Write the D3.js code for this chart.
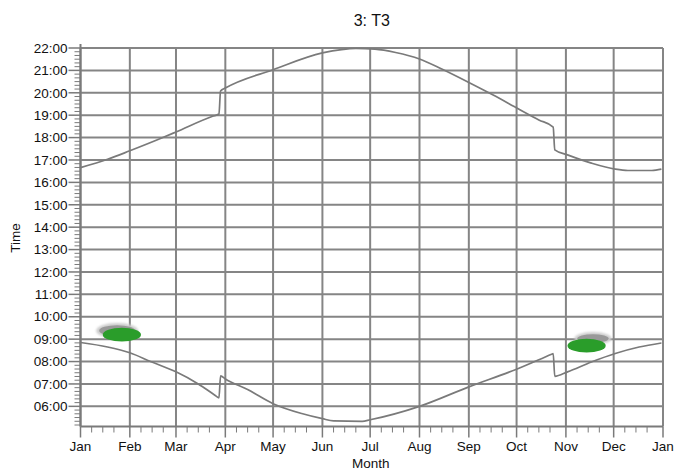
<!DOCTYPE html>
<html>
<head>
<meta charset="utf-8">
<script src="https://cdn.jsdelivr.net/npm/d3@7"></script>
<style>
  html, body { margin: 0; padding: 0; background: #fff; }
  svg { display: block; font-family: "Liberation Sans", Arial, sans-serif; }
</style>
</head>
<body>
<svg id="chart" width="677" height="472"></svg>
<script>
// ---------- data ----------
const chartTitle = "3: T3";
const xTitle = "Month";
const yTitle = "Time";
const monthLabels = ["Jan","Feb","Mar","Apr","May","Jun","Jul","Aug","Sep","Oct","Nov","Dec","Jan"];
const hourTicks = [6,7,8,9,10,11,12,13,14,15,16,17,18,19,20,21,22];

// sunset (upper line): date, time in decimal hours
const sunsetDates = ["2020-01-01","2020-01-18","2020-02-01","2020-02-21","2020-03-01","2020-03-24","2020-03-28","2020-03-29","2020-04-01","2020-05-01","2020-06-01","2020-06-13","2020-06-22","2020-07-04","2020-07-17","2020-08-01","2020-08-15","2020-09-01","2020-09-16","2020-10-02","2020-10-15","2020-10-24","2020-10-25","2020-11-02","2020-11-17","2020-12-02","2020-12-10","2020-12-25","2020-12-31"];
const sunsetTimes = [16.66,17.03,17.41,17.98,18.25,18.95,19.05,20.08,20.21,21.03,21.78,21.93,21.98,21.95,21.80,21.51,21.06,20.46,19.91,19.29,18.79,18.47,17.45,17.23,16.86,16.59,16.53,16.53,16.59];

// sunrise (lower line)
const sunriseDates = ["2020-01-01","2020-01-18","2020-02-01","2020-02-14","2020-03-01","2020-03-15","2020-03-25","2020-03-28","2020-03-29","2020-04-01","2020-04-15","2020-05-01","2020-05-19","2020-06-01","2020-06-08","2020-06-26","2020-07-01","2020-08-01","2020-09-01","2020-10-01","2020-10-23","2020-10-24","2020-10-25","2020-11-02","2020-11-17","2020-12-02","2020-12-17","2020-12-31"];
const sunriseTimes = [8.85,8.65,8.39,8.00,7.54,7.00,6.52,6.38,7.36,7.22,6.75,6.12,5.68,5.45,5.35,5.33,5.40,6.00,6.87,7.66,8.33,8.36,7.34,7.54,7.98,8.36,8.65,8.83];

// event clusters: grey (background) and green (foreground)
const greyClusterDates = ["2020-01-24","2020-11-18"];
const greyClusterTimes = [9.38, 9.03];
const greyClusterSpanDays = [25, 22];
const greyClusterSpanHours = [0.6, 0.48];

const greenClusterDates = ["2020-01-27","2020-11-14"];
const greenClusterTimes = [9.20, 8.71];
const greenClusterSpanDays = [24, 24];
const greenClusterSpanHours = [0.62, 0.62];

// ---------- chart ----------
const parse = d3.timeParse("%Y-%m-%d");
const svg = d3.select("#chart");
const L = 80.5, R = 663, T = 48, B = 426.5;

const x = d3.scaleTime()
  .domain([parse("2020-01-01"), parse("2021-01-01")])
  .range([L, R]);
const y = d3.scaleLinear().domain([5.1, 22]).range([B, T]);

const gridColor = "#858585";
const monthDates = d3.timeMonth.range(parse("2020-01-01"), parse("2021-01-02"));

// defs for soft cluster edges
const defs = svg.append("defs");
[["blurOuter", 1.3], ["blurCore", 0.7], ["blurGreen", 0.5]].forEach(([id, s]) => {
  defs.append("filter").attr("id", id).attr("x","-50%").attr("y","-50%").attr("width","200%").attr("height","200%")
    .append("feGaussianBlur").attr("stdDeviation", s);
});

// horizontal grid
svg.append("g").selectAll("line").data(hourTicks).join("line")
  .attr("x1", L).attr("x2", R)
  .attr("y1", d => y(d)).attr("y2", d => y(d))
  .attr("stroke", gridColor).attr("stroke-width", 2);

// vertical grid
svg.append("g").selectAll("line").data(monthDates).join("line")
  .attr("x1", d => x(d)).attr("x2", d => x(d))
  .attr("y1", T).attr("y2", B)
  .attr("stroke", gridColor).attr("stroke-width", 2);

// clusters
const clusters = svg.append("g");
const greyData = greyClusterDates.map((d,i) => ({d: parse(d), t: greyClusterTimes[i], sd: greyClusterSpanDays[i], sh: greyClusterSpanHours[i]}));
const greenData = greenClusterDates.map((d,i) => ({d: parse(d), t: greenClusterTimes[i], sd: greenClusterSpanDays[i], sh: greenClusterSpanHours[i]}));
const halfW = o => (x(d3.timeDay.offset(o.d, o.sd)) - x(o.d)) / 2;
const halfH = o => (y(0) - y(o.sh)) / 2;

clusters.append("g").attr("filter","url(#blurOuter)").selectAll("ellipse").data(greyData).join("ellipse")
  .attr("cx", o => x(o.d)).attr("cy", o => y(o.t))
  .attr("rx", o => halfW(o) + 1).attr("ry", o => halfH(o) + 1)
  .attr("fill", "#cdcdcd");
clusters.append("g").attr("filter","url(#blurCore)").selectAll("ellipse").data(greyData).join("ellipse")
  .attr("cx", o => x(o.d)).attr("cy", o => y(o.t))
  .attr("rx", o => halfW(o) * 0.9).attr("ry", o => halfH(o) * 0.8)
  .attr("fill", "#999999");
clusters.append("g").attr("filter","url(#blurGreen)").selectAll("ellipse").data(greenData).join("ellipse")
  .attr("cx", o => x(o.d)).attr("cy", o => y(o.t))
  .attr("rx", o => halfW(o)).attr("ry", o => halfH(o))
  .attr("fill", "#2b9d2b");

// lines
const line = d3.line().x(p => x(p.d)).y(p => y(p.t)).curve(d3.curveMonotoneX);
const sunset = sunsetDates.map((d,i) => ({d: parse(d), t: sunsetTimes[i]}));
const sunrise = sunriseDates.map((d,i) => ({d: parse(d), t: sunriseTimes[i]}));
[sunset, sunrise].forEach(s => {
  svg.append("path").datum(s).attr("d", line)
    .attr("fill", "none").attr("stroke", "#7a7a7a").attr("stroke-width", 1.7)
    .attr("stroke-linejoin", "round");
});

// axes
const axisColor = "#7a7a7a";
const yAxis = svg.append("g");
// minor y ticks every 10 min
const minorY = d3.range(5 * 6 + 1, 22 * 6 + 1).map(v => v / 6).filter(v => Math.abs(v - Math.round(v)) > 1e-6);
yAxis.selectAll("line.minor").data(minorY).join("line").attr("class","minor")
  .attr("x1", L - 6).attr("x2", L).attr("y1", d => y(d)).attr("y2", d => y(d))
  .attr("stroke", axisColor).attr("stroke-width", 1);
yAxis.selectAll("line.major").data(hourTicks).join("line").attr("class","major")
  .attr("x1", L - 12).attr("x2", L).attr("y1", d => y(d)).attr("y2", d => y(d))
  .attr("stroke", axisColor).attr("stroke-width", 1.5);
yAxis.append("line").attr("x1", L).attr("x2", L).attr("y1", T - 4).attr("y2", B)
  .attr("stroke", axisColor).attr("stroke-width", 2);
yAxis.selectAll("text").data(hourTicks).join("text")
  .attr("x", L - 13).attr("y", d => y(d)).attr("dy", "0.35em")
  .attr("text-anchor", "end").attr("font-size", 13.5).attr("fill", "#111")
  .text(d => (d < 10 ? "0" : "") + d + ":00");

const xAxis = svg.append("g");
const minorX = [];
monthDates.slice(0, 12).forEach(m => [7, 14, 21].forEach(k => minorX.push(d3.timeDay.offset(m, k))));
xAxis.selectAll("line.minor").data(minorX).join("line").attr("class","minor")
  .attr("x1", d => x(d)).attr("x2", d => x(d)).attr("y1", B).attr("y2", B + 6)
  .attr("stroke", axisColor).attr("stroke-width", 1);
xAxis.selectAll("line.major").data(monthDates).join("line").attr("class","major")
  .attr("x1", d => x(d)).attr("x2", d => x(d)).attr("y1", B).attr("y2", B + 11)
  .attr("stroke", axisColor).attr("stroke-width", 1.5);
xAxis.append("line").attr("x1", L).attr("x2", R).attr("y1", B).attr("y2", B)
  .attr("stroke", axisColor).attr("stroke-width", 2);
xAxis.selectAll("text").data(monthDates).join("text")
  .attr("x", d => x(d)).attr("y", B + 24)
  .attr("text-anchor", "middle").attr("font-size", 13.5).attr("fill", "#111")
  .text((d,i) => monthLabels[i]);

// titles
svg.append("text").attr("x", (L + R) / 2).attr("y", 26)
  .attr("text-anchor", "middle").attr("font-size", 16).attr("fill", "#111").text(chartTitle);
svg.append("text").attr("x", (L + R) / 2 - 1).attr("y", 468)
  .attr("text-anchor", "middle").attr("font-size", 13.5).attr("fill", "#111").text(xTitle);
svg.append("text").attr("transform", `translate(20, 238) rotate(-90)`)
  .attr("text-anchor", "middle").attr("font-size", 13.5).attr("fill", "#111").text(yTitle);
</script>
</body>
</html>
